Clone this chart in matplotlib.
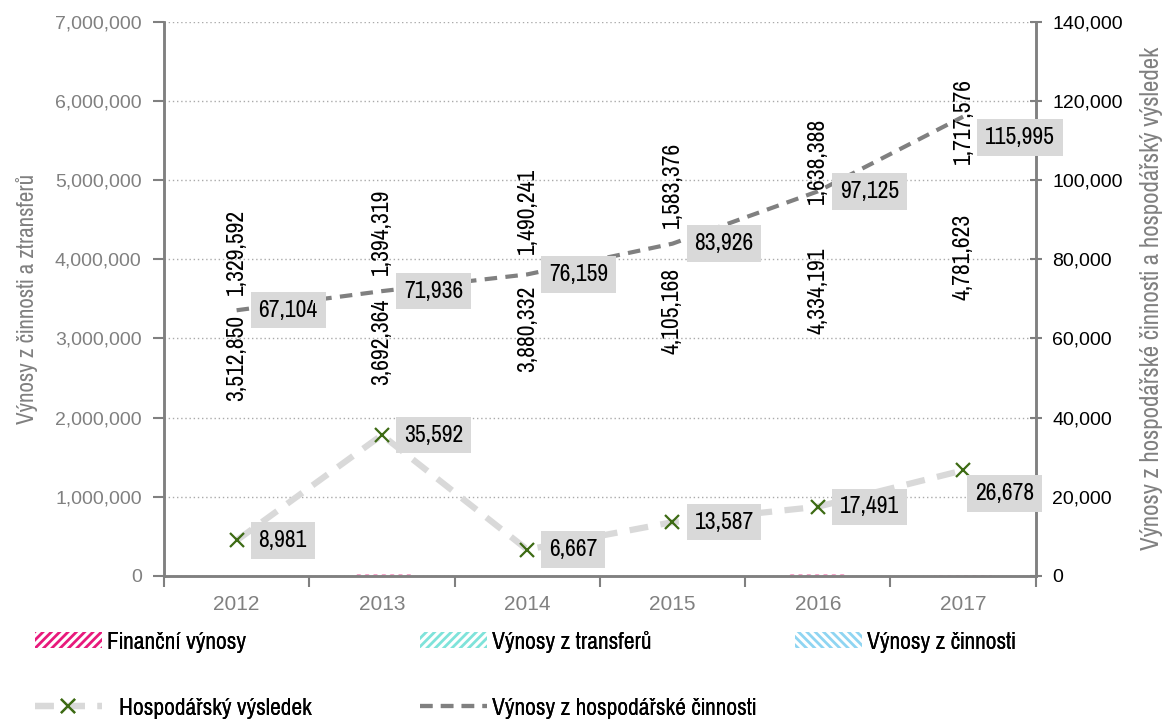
import numpy as np
import matplotlib
matplotlib.use("Agg")
from matplotlib import pyplot as plt
from matplotlib import font_manager
from matplotlib.patches import Patch
from matplotlib.lines import Line2D
from matplotlib.ticker import FuncFormatter, MultipleLocator

# data
years = ["2012", "2013", "2014", "2015", "2016", "2017"]
financni = [4000, 22000, 5000, 6000, 22000, 7000]
cinnost = [3512850, 3692364, 3880332, 4105168, 4334191, 4781623]
transfery = [1329592, 1394319, 1490241, 1583376, 1638388, 1717576]
hosp_vynosy = [67104, 71936, 76159, 83926, 97125, 115995]
hosp_vysledek = [8981, 35592, 6667, 13587, 17491, 26678]

names = set(f.name for f in font_manager.fontManager.ttflist)
narrow = "Liberation Sans"
for cand in ["Liberation Sans Narrow", "Pragati Narrow", "Archivo Narrow", "Roboto Condensed",
             "PT Sans Narrow", "IBM Plex Sans Condensed", "Fira Sans Condensed"]:
    if cand in names:
        narrow = cand
        break
plt.rcParams["font.family"] = ["Liberation Sans", "DejaVu Sans"]
plt.rcParams["hatch.linewidth"] = 2.0

fmt = FuncFormatter(lambda v, p: f"{v:,.0f}")
grey = "#808080"
fs = 18.5

fig = plt.figure(figsize=(11.67, 7.2), dpi=100)
ax = fig.add_axes([0.1405, 0.2, 0.747, 0.77])
ax2 = ax.twinx()

x = np.arange(len(years))
w = 0.4

# bars (almost invisible in the original rendering)
b_fin = ax.bar(x, financni, w, color="none", edgecolor="#e8197c", hatch="////", linewidth=0, alpha=0.4)
b_cin = ax.bar(x, cinnost, w, bottom=financni, color="none", edgecolor="none", linewidth=0, alpha=0)
bottom2 = np.array(financni) + np.array(cinnost)
b_tr = ax.bar(x, transfery, w, bottom=bottom2, color="none", edgecolor="none", linewidth=0, alpha=0)

for cont, vals in [(b_cin, cinnost), (b_tr, transfery)]:
    for rect, v in zip(cont, vals):
        ax.annotate(f"{v:,}", (rect.get_x() + rect.get_width() / 2, rect.get_y() + rect.get_height()),
                    xytext=(0, -17), textcoords="offset pixels", rotation=90,
                    ha="center", va="top", fontsize=fs, family=narrow, color="black")

ax.set_ylim(0, 7000000)
ax.set_xlim(-0.5, 5.5)
ax.yaxis.set_major_locator(MultipleLocator(1000000))
ax.yaxis.set_major_formatter(fmt)
ax.grid(axis="y", linestyle=(0, (1, 2)), color="#aaaaaa", linewidth=1)
ax.set_axisbelow(True)

# lines on the secondary axis
ax2.plot(x, hosp_vysledek, color="#d9d9d9", linewidth=4.5, linestyle=(0, (3, 2)),
         marker="x", markersize=10, markeredgecolor="#3d6b14", markeredgewidth=1.6, zorder=3)
ax2.plot(x, hosp_vynosy, color=grey, linewidth=3, linestyle=(0, (3, 2)), zorder=3)

box = dict(boxstyle="square,pad=0.3", facecolor="#d9d9d9", edgecolor="none")
offs_vynosy = [(22, 0)] * 5 + [(22, -21)]
offs_vysledek = [(22, 0)] * 5 + [(12, -23)]
for xi, v, o in zip(x, hosp_vynosy, offs_vynosy):
    ax2.annotate(f"{v:,}", (xi, v), xytext=o, textcoords="offset pixels",
                 ha="left", va="center", fontsize=fs, family=narrow, bbox=box, zorder=4)
for xi, v, o in zip(x, hosp_vysledek, offs_vysledek):
    ax2.annotate(f"{v:,}", (xi, v), xytext=o, textcoords="offset pixels",
                 ha="left", va="center", fontsize=fs, family=narrow, bbox=box, zorder=4)

ax2.set_ylim(0, 140000)
ax2.yaxis.set_major_locator(MultipleLocator(20000))
ax2.yaxis.set_major_formatter(fmt)

# axes styling
for a in (ax, ax2):
    a.spines["top"].set_visible(False)
    for s in ("left", "right", "bottom"):
        a.spines[s].set_color(grey)
        a.spines[s].set_linewidth(1.8)

ax.set_xticks(x)
ax.set_xticklabels(years)
ax.set_xticks(np.arange(-0.5, 6, 1), minor=True)
ax.tick_params(axis="x", which="major", length=0, pad=14, labelsize=15, labelcolor=grey)
ax.tick_params(axis="x", which="minor", length=8, width=1.5, color=grey, direction="out")
ax.tick_params(axis="y", length=8, width=1.5, color=grey, labelsize=14, labelcolor=grey, pad=8)
ax2.tick_params(axis="y", length=8, width=1.5, color=grey, labelsize=14, labelcolor="black",
                direction="inout", pad=8)

ax.set_ylabel("Výnosy z činnosti a ztransferů", fontsize=18, family=narrow, color=grey, labelpad=12)
ax2.set_ylabel("Výnosy z hospodářské činnosti a hospodářský výsledek", fontsize=19.5, family=narrow,
               color=grey, labelpad=12)

# legend: one small legend per entry, laid out as in the original grid
h_fin = Patch(facecolor="white", edgecolor="#e8197c", hatch="////", linewidth=0)
h_tr = Patch(facecolor="white", edgecolor="#7fe3da", hatch="////", linewidth=0)
h_cin = Patch(facecolor="white", edgecolor="#8fd5f2", hatch="\\\\\\\\", linewidth=0)
h_vys = Line2D([], [], color="#d9d9d9", linewidth=4.5, linestyle=(0, (3, 2)), marker="x",
               markersize=10, markeredgecolor="#3d6b14", markeredgewidth=1.6)
h_vyn = Line2D([], [], color=grey, linewidth=3, linestyle=(0, (3, 2)))

entries = [(h_fin, "Finanční výnosy", 0.03, 0.108, 0.2),
           (h_tr, "Výnosy z transferů", 0.36, 0.108, 0.2),
           (h_cin, "Výnosy z činnosti", 0.681, 0.108, 0.2),
           (h_vys, "Hospodářský výsledek", 0.03, 0.016, 0.65),
           (h_vyn, "Výnosy z hospodářské činnosti", 0.36, 0.016, 0.2)]
for h, lab, lx, ly, tp in entries:
    lg = fig.legend([h], [lab], loc="center left", bbox_to_anchor=(lx, ly), frameon=False,
                    prop={"family": narrow, "size": fs}, handlelength=2.6, handletextpad=tp,
                    borderpad=0, borderaxespad=0, handleheight=0.6)
    fig.add_artist(lg)

fig.savefig("out.png", dpi=100)
